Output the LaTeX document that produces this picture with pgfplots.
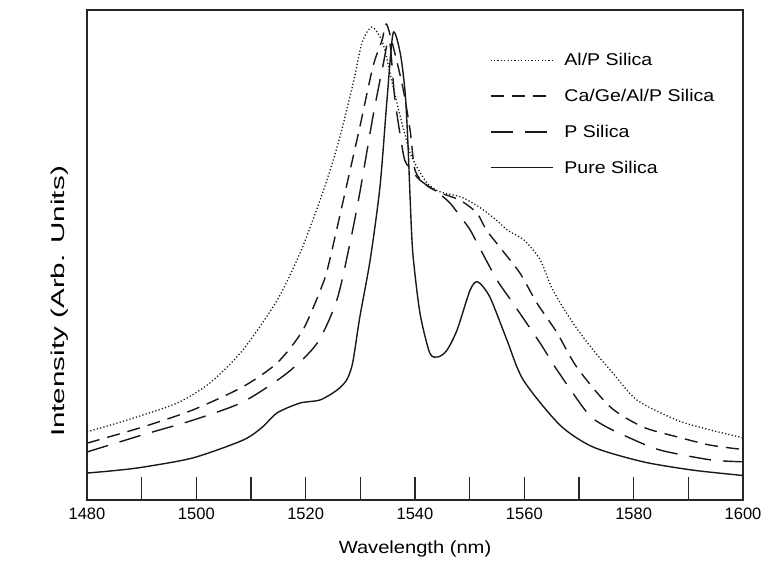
\documentclass[border=0pt]{standalone}
\usepackage{fontspec}
\setmainfont{Liberation Sans}[FakeStretch=1.15]
\newfontfamily\tickfont{Liberation Sans}
\newfontfamily\ylabfont{Liberation Sans}[FakeStretch=1.6]
\newfontfamily\legfont{Liberation Sans}[FakeStretch=1.15]
\usepackage{pgfplots}
\pgfplotsset{compat=1.18}

\begin{document}
\begin{tikzpicture}
  \begin{axis}[
    at={(0pt,0pt)}, anchor=south west,
    scale only axis,
    width=656pt, height=490pt,
    xmin=1480, xmax=1600,
    ymin=0, ymax=100,
    xtick={1480,1490,...,1600},
    xticklabels={1480,,1500,,1520,,1540,,1560,,1580,,1600},
    ytick=\empty,
    xtick pos=lower,
    tick align=inside,
    major tick length=23pt,
    every tick/.style={black!85, line width=1.2pt},
    axis line style={black!85, line width=1.6pt},
    xticklabel style={font=\tickfont\fontsize{16.5}{20}\selectfont, yshift=-4pt},
    xlabel={Wavelength (nm)},
    xlabel style={font=\fontsize{17.5}{20}\selectfont, at={(axis description cs:0.5,-0.1)}, anchor=center},
    ylabel={Intensity (Arb. Units)},
    ylabel style={font=\ylabfont\fontsize{18.5}{20}\selectfont, at={(axis description cs:-0.041,0.405)}, anchor=center},
    legend style={
      at={(axis description cs:0.614,0.916)}, anchor=north west,
      draw=none, fill=none,
      font=\legfont\fontsize{17}{19}\selectfont,
      row sep=18pt,
      inner sep=0pt,
      /tikz/every odd column/.append style={column sep=9pt},
    },
    legend cell align=left,
    legend image code/.code={\draw[#1] (0pt,0pt) -- (62pt,0pt);},
    every axis plot/.append style={black!90, line width=1.4pt, smooth, tension=0.45},
  ]

  % Al/P Silica
  \addplot[dash pattern=on 1.2pt off 2.2pt, line width=1.3pt] coordinates {
    (1480,13.9) (1487.3,16.3) (1496.5,19.8) (1502.5,23.9) (1508.5,30.6)
    (1514.8,40.8) (1519.2,51) (1523.2,63) (1526.0,73) (1528.7,85.1)
    (1530.3,93.3) (1532.1,96.5) (1534.1,93.3) (1536,84.3) (1537.8,76.1)
    (1539.4,70) (1542.2,64.7) (1544.6,62.9) (1548.5,61.8) (1552,59.6)
    (1555,57) (1557,55) (1560,53) (1562.9,49) (1565.2,42.9) (1568.9,36.1)
    (1572.6,30.6) (1576.2,25.9) (1580.6,20.4) (1587.9,16.3) (1594,14.3)
    (1600,12.7)
  };
  \addlegendentry{Al/P Silica}

  % Ca/Ge/Al/P Silica
  \addplot[dash pattern=on 13pt off 8pt] coordinates {
    (1480,11.6) (1490.2,14.9) (1499.4,18.4) (1508.5,23.1) (1514.8,28.0)
    (1519.5,34.7) (1523.2,44.3) (1524.4,49) (1527.6,64.7) (1529.9,76.1)
    (1532.3,88.4) (1534.0,93.9) (1534.9,96.9) (1537.6,85.1) (1539.1,75.5)
    (1540,67.3) (1542,64.3) (1544.6,62.7) (1548.2,61.2) (1551.3,58.6)
    (1553,55.2) (1555.5,51.6) (1559.2,46.3) (1562.3,40.2) (1566,34.1)
    (1569.6,27.1) (1575.7,19.0) (1581.7,14.9) (1587.9,12.9) (1594,11.2)
    (1600,10.3)
  };
  \addlegendentry{Ca/Ge/Al/P Silica}

  % P Silica
  \addplot[dash pattern=on 22pt off 12pt] coordinates {
    (1480,9.8) (1490.2,13.3) (1499.4,16.3) (1508.5,20.0) (1516.6,25.9)
    (1522.1,32.0) (1525.7,40.8) (1528.1,52.4) (1529.9,62.7) (1532.3,78.2)
    (1534.1,88.4) (1535.3,94) (1536.3,82) (1537.8,71) (1538.5,68.5)
    (1540.9,65.3) (1544,62.9) (1546.4,60.6) (1548.8,57.1) (1550.1,55.1)
    (1551.9,51.3) (1555,44.9) (1557.9,40.2) (1562.9,32.0) (1566,26.5)
    (1571.5,17.8) (1574.4,15.3) (1578.8,12.9) (1584.8,10.2) (1594,8.2)
    (1600,7.8)
  };
  \addlegendentry{P Silica}

  % Pure Silica
  \addplot[solid] coordinates {
    (1480,5.5) (1485,6.0) (1490.2,6.7) (1499.4,8.6) (1508.5,12.2)
    (1512,14.8) (1514.8,17.8) (1519,19.8) (1522.6,20.4) (1525.7,22.4)
    (1527.5,24.5) (1528.6,28) (1529.9,37.3) (1531.8,49.0) (1533.6,64)
    (1534.9,82) (1536.0,95.3) (1537.3,91.2) (1538.2,83.1) (1538.7,72.9)
    (1539.1,61.8) (1539.6,50.4) (1540.9,38.2) (1542.7,30.0) (1544.2,29.2)
    (1545.8,30.5) (1547.7,34.7) (1550.1,42.9) (1551.5,44.5) (1553.7,41.4)
    (1556.8,32.7) (1559.8,24.5) (1566.5,15.3) (1572.6,10.8) (1581.7,7.8)
    (1590.8,6.1) (1600,5.0)
  };
  \addlegendentry{Pure Silica}

  \end{axis}
  \pgfresetboundingbox
  \path[use as bounding box] (-87pt,-65pt) rectangle (675pt,500pt);
\end{tikzpicture}
\end{document}
